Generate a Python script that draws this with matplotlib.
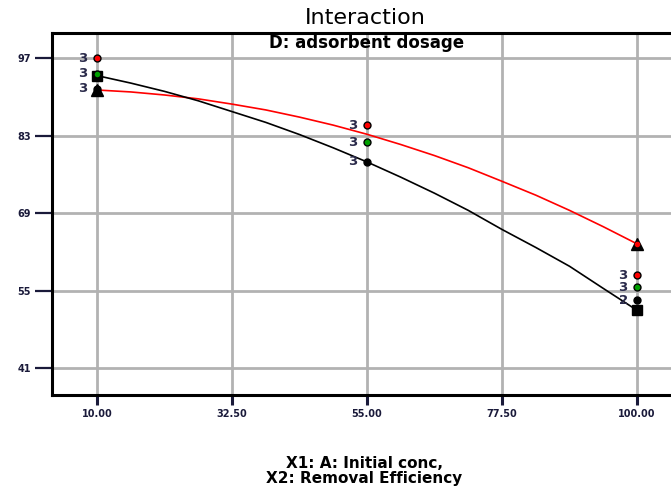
import matplotlib.pyplot as plt
import numpy as np

# X1 levels (initial conc.) and the two fitted lines (D low = black, D high = red)
x_levels = [10, 55, 100]
curve_x = [10, 15.625, 21.25, 26.875, 32.5, 38.125, 43.75, 49.375, 55,
           60.625, 66.25, 71.875, 77.5, 83.125, 88.75, 94.375, 100]
red_curve = [91.3, 90.95, 90.4, 89.7, 88.75, 87.7, 86.4, 84.95, 83.3,
             81.45, 79.45, 77.25, 74.8, 72.3, 69.55, 66.6, 63.5]
black_curve = [93.9, 92.55, 91.05, 89.35, 87.4, 85.45, 83.25, 80.85, 78.3,
               75.55, 72.65, 69.55, 66.1, 62.85, 59.45, 55.45, 51.5]

# design points + replicate counts
red_pts = [97.0, 84.9, 57.8]
green_pts = [94.2, 81.9, 55.7]
black_pts = [91.5, 78.3, 53.3]
red_counts = ['3', '3', '3']
green_counts = ['3', '3', '3']
black_counts = ['3', '3', '2']

xticks = [10, 32.5, 55, 77.5, 100]
xtick_labels = ['10.00', '32.50', '55.00', '77.50', '100.00']
yticks = [41, 55, 69, 83, 97]

plt.rcParams['font.family'] = ['DejaVu Sans']

fig = plt.figure(figsize=(6.71, 4.88), dpi=100)
ax = fig.add_axes([0.0775, 0.1906, 0.939, 0.7418])
ax.set_xlim(2.5, 107.5)
ax.set_ylim(36.2, 101.6)

# gridlines
ax.set_xticks(xticks)
ax.set_xticklabels(xtick_labels)
ax.set_yticks(yticks)
ax.grid(True, color='#b2b2b2', lw=2.0, zorder=0)
ax.set_axisbelow(True)

for s in ['left', 'bottom', 'top']:
    ax.spines[s].set_linewidth(2.2)
ax.spines['right'].set_visible(False)

ax.tick_params(axis='y', direction='out', length=12, width=1.6, pad=3,
               labelsize=7, colors='#1a1a3a')
ax.tick_params(axis='x', direction='out', length=7, width=2.2, pad=3,
               labelsize=7, colors='#1a1a3a')
for lab in ax.get_xticklabels() + ax.get_yticklabels():
    lab.set_fontweight('bold')

# fitted lines
ax.plot(curve_x, red_curve, color='red', lw=1.2, zorder=3)
ax.plot(curve_x, black_curve, color='black', lw=1.2, zorder=3)

# line end markers
ax.plot([curve_x[0], curve_x[-1]], [red_curve[0], red_curve[-1]], ls='none',
        marker='^', ms=8, mfc='black', mec='black', zorder=4)
ax.plot([curve_x[-1]], [red_curve[-1]], ls='none', marker='o', ms=3,
        mfc='red', mec='red', zorder=5)
ax.plot([curve_x[0], curve_x[-1]], [black_curve[0], black_curve[-1]], ls='none',
        marker='s', ms=7, mfc='black', mec='black', zorder=4)

# design points
ax.plot(x_levels, black_pts, ls='none', marker='o', ms=5, mfc='black',
        mec='black', zorder=5)
ax.plot(x_levels, green_pts, ls='none', marker='o', ms=5, mfc='#00a000',
        mec='black', mew=1, zorder=6)
ax.plot(x_levels, red_pts, ls='none', marker='o', ms=5, mfc='red',
        mec='black', mew=1, zorder=6)

for pts, counts in [(red_pts, red_counts), (green_pts, green_counts),
                    (black_pts, black_counts)]:
    for xv, yv, c in zip(x_levels, pts, counts):
        ax.annotate(c, (xv, yv), xytext=(-10, 0), textcoords='offset points',
                    ha='center', va='center', fontsize=9.5, fontweight='bold',
                    color='#2a2a4a', zorder=7)

ax.text(55, 0.972, 'D: adsorbent dosage', transform=ax.get_xaxis_transform(),
        ha='center', va='center', fontsize=12, fontweight='bold', zorder=8)
fig.text(0.544, 0.963, 'Interaction', ha='center', va='center', fontsize=16)
fig.text(0.543, 0.035, 'X1: A: Initial conc,\nX2: Removal Efficiency',
         ha='center', va='center', fontsize=11, fontweight='bold',
         linespacing=0.95)

fig.savefig('out.png', dpi=100)
